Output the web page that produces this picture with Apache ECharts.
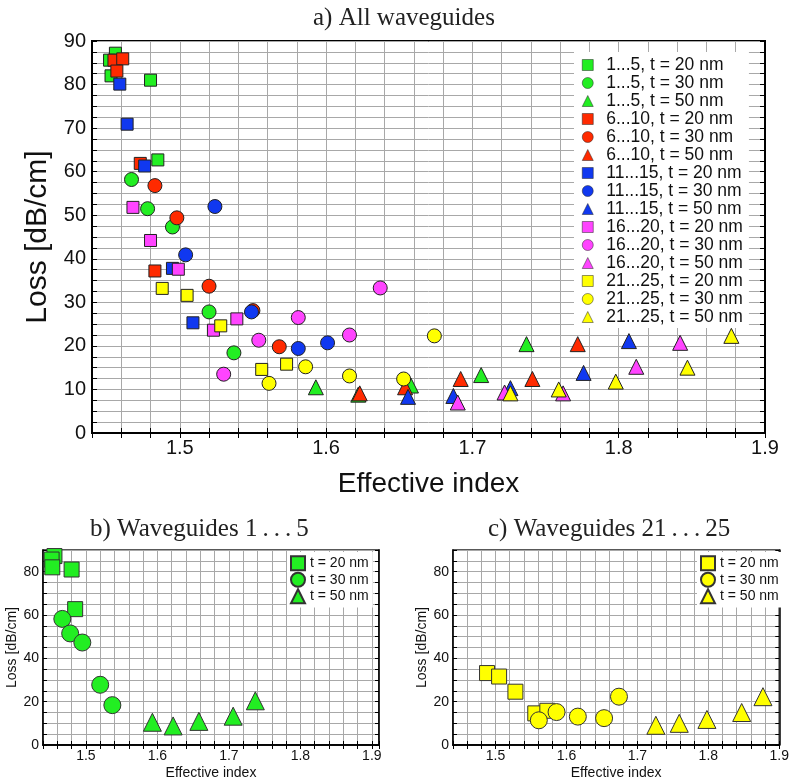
<!DOCTYPE html>
<html>
<head>
<meta charset="utf-8">
<script src="https://cdn.jsdelivr.net/npm/echarts@6/dist/echarts.min.js"></script>
<style>
  html, body { margin: 0; padding: 0; background: #fff; }
  #chart { width: 792px; height: 782px; }
</style>
</head>
<body>
<div id="chart"></div>
<script>
const groupNames = ['1...5', '6...10', '11...15', '16...20', '21...25'];
const thicknessNames = ['t = 20 nm', 't = 30 nm', 't = 50 nm'];
const groupColors = ['#22ee22', '#ff2a00', '#1038f0', '#ff44ff', '#ffff00'];
const thicknessSymbols = ['rect', 'circle', 'triangle'];

// [effective index, loss dB/cm]
const wg1_t20 = [[1.456, 87.2], [1.452, 85.6], [1.453, 82.0], [1.480, 81.0], [1.485, 62.7]];
const wg1_t30 = [[1.467, 58.2], [1.478, 51.5], [1.495, 47.3], [1.520, 27.8], [1.537, 18.4]];
const wg1_t50 = [[1.593, 10.5], [1.622, 8.8], [1.658, 10.9], [1.706, 13.3], [1.737, 20.4]];
const wg6_t20 = [[1.455, 85.6], [1.461, 85.9], [1.457, 83.1], [1.473, 61.9], [1.483, 37.2]];
const wg6_t30 = [[1.483, 56.8], [1.498, 49.4], [1.520, 33.7], [1.550, 28.1], [1.568, 19.8]];
const wg6_t50 = [[1.623, 9.1], [1.654, 10.5], [1.692, 12.4], [1.741, 12.4], [1.772, 20.4]];
const wg11_t20 = [[1.459, 80.1], [1.464, 70.9], [1.476, 61.3], [1.495, 37.8], [1.509, 25.3]];
const wg11_t30 = [[1.524, 52.0], [1.504, 40.9], [1.549, 27.8], [1.581, 19.4], [1.601, 20.7]];
const wg11_t50 = [[1.656, 8.3], [1.687, 8.5], [1.726, 10.3], [1.776, 13.8], [1.807, 21.1]];
const wg16_t20 = [[1.468, 51.8], [1.480, 44.2], [1.499, 37.6], [1.523, 23.6], [1.539, 26.2]];
const wg16_t30 = [[1.530, 13.5], [1.554, 21.3], [1.581, 26.5], [1.616, 22.5], [1.637, 33.3]];
const wg16_t50 = [[1.690, 7.0], [1.722, 9.3], [1.762, 9.1], [1.812, 15.2], [1.842, 20.7]];
const wg21_t20 = [[1.488, 33.2], [1.505, 31.6], [1.528, 24.6], [1.556, 14.6], [1.573, 15.8]];
const wg21_t30 = [[1.561, 11.4], [1.586, 15.2], [1.616, 13.1], [1.653, 12.4], [1.674, 22.3]];
const wg21_t50 = [[1.726, 9.1], [1.759, 10.0], [1.798, 11.8], [1.847, 15.0], [1.877, 22.3]];

const allData = [
  [wg1_t20, wg1_t30, wg1_t50],
  [wg6_t20, wg6_t30, wg6_t50],
  [wg11_t20, wg11_t30, wg11_t50],
  [wg16_t20, wg16_t30, wg16_t50],
  [wg21_t20, wg21_t30, wg21_t50]
];

const sans = 'Liberation Sans';
const serif = 'Liberation Serif';
const gridColor = '#a8a8a8';

const mainSizes = [12, 14, 15];
const smallSizes = [15, 17, 18];

function xLabel(step) {
  return function (v) {
    const t = Math.round(v * 100);
    return t % step === 0 ? (t / 100).toFixed(1) : '';
  };
}
function yLabel(step) {
  return function (v) {
    return Math.abs(v % step) < 1e-6 ? String(v) : '';
  };
}

function makeX(gridIndex, opt) {
  const base = {
    gridIndex, type: 'value', min: 1.44, max: opt.max, interval: 0.02,
    axisLine: { lineStyle: { color: '#000', width: opt.lw } },
    axisTick: { inside: true, length: opt.tick, lineStyle: { color: '#000' } },
    splitLine: { show: true, lineStyle: { color: gridColor, width: 1 } }
  };
  return [
    Object.assign({}, base, {
      position: 'bottom',
      name: 'Effective index', nameLocation: 'middle', nameGap: opt.nameGap,
      nameTextStyle: { fontFamily: sans, fontSize: opt.nameSize, color: '#111' },
      axisLabel: { formatter: xLabel(10), fontFamily: sans, fontSize: opt.labelSize, color: '#111', margin: opt.margin }
    }),
    Object.assign({}, base, {
      position: 'top', splitLine: { show: false }, axisLabel: { show: false }
    })
  ];
}

function makeY(gridIndex, opt) {
  const base = {
    gridIndex, type: 'value', min: 0, max: 90, interval: opt.interval,
    axisLine: { show: true, lineStyle: { color: '#000', width: opt.lw } },
    axisTick: { show: true, inside: true, length: opt.tick, lineStyle: { color: '#000' } },
    splitLine: { show: true, lineStyle: { color: gridColor, width: 1 } }
  };
  return [
    Object.assign({}, base, {
      position: 'left',
      name: 'Loss [dB/cm]', nameLocation: 'middle', nameGap: opt.nameGap,
      nameTextStyle: { fontFamily: sans, fontSize: opt.nameSize, color: '#111' },
      axisLabel: { formatter: yLabel(opt.labelStep), fontFamily: sans, fontSize: opt.labelSize, color: '#111', margin: opt.margin }
    }),
    Object.assign({}, base, {
      position: 'right', splitLine: { show: false }, axisLabel: { show: false }
    })
  ];
}

const xAxes = [].concat(
  makeX(0, { max: 1.9, lw: 2, tick: 5, nameGap: 37, nameSize: 28, labelSize: 20, margin: 5 }),
  makeX(1, { max: 1.91, lw: 1.5, tick: 4, nameGap: 21, nameSize: 14, labelSize: 14, margin: 4 }),
  makeX(2, { max: 1.9, lw: 1.5, tick: 4, nameGap: 21, nameSize: 14, labelSize: 14, margin: 4 })
);
const yAxes = [].concat(
  makeY(0, { interval: 2.5, labelStep: 10, lw: 2, tick: 5, nameGap: 37, nameSize: 30, labelSize: 20, margin: 6 }),
  makeY(1, { interval: 5, labelStep: 20, lw: 1.5, tick: 4, nameGap: 20, nameSize: 14, labelSize: 14, margin: 4 }),
  makeY(2, { interval: 5, labelStep: 20, lw: 1.5, tick: 4, nameGap: 20, nameSize: 14, labelSize: 14, margin: 4 })
);

const series = [];
const mainLegend = [];
groupNames.forEach((g, gi) => {
  thicknessNames.forEach((t, ti) => {
    const name = g + ', ' + t;
    mainLegend.push(name);
    series.push({
      type: 'scatter', name, xAxisIndex: 0, yAxisIndex: 0,
      symbol: thicknessSymbols[ti], symbolSize: mainSizes[ti],
      itemStyle: { color: groupColors[gi], borderColor: '#222', borderWidth: 1, opacity: 1 },
      data: allData[gi][ti]
    });
  });
});

// panels b) and c): single group each
const panels = [
  { prefix: 'b|', group: 0, axis: 2 },
  { prefix: 'c|', group: 4, axis: 4 }
];
const panelLegends = [[], []];
panels.forEach((p, pi) => {
  thicknessNames.forEach((t, ti) => {
    const name = p.prefix + t;
    panelLegends[pi].push(name);
    series.push({
      type: 'scatter', name, xAxisIndex: p.axis, yAxisIndex: p.axis,
      symbol: thicknessSymbols[ti], symbolSize: smallSizes[ti],
      itemStyle: { color: groupColors[p.group], borderColor: '#333', borderWidth: 1, opacity: 1 },
      data: allData[p.group][ti]
    });
  });
});

const chart = echarts.init(document.getElementById('chart'), null, { renderer: 'canvas' });
chart.setOption({
  backgroundColor: '#fff',
  animation: false,
  title: [
    { text: 'a) All waveguides', left: 308, top: 1, textStyle: { fontFamily: serif, fontSize: 25, fontWeight: 'normal', color: '#222' } },
    { text: 'b) Waveguides 1\u2009.\u2009.\u2009.\u20095', left: 85, top: 512, textStyle: { fontFamily: serif, fontSize: 25, fontWeight: 'normal', color: '#222' } },
    { text: 'c) Waveguides 21\u2009.\u2009.\u2009.\u200925', left: 483, top: 512, textStyle: { fontFamily: serif, fontSize: 25, fontWeight: 'normal', color: '#222' } }
  ],
  grid: [
    { left: 92, right: 27, top: 41, bottom: 349, show: true, borderColor: '#000', borderWidth: 2 },
    { left: 43, right: 413, top: 550, bottom: 37, show: true, borderColor: '#222', borderWidth: 1.5 },
    { left: 453, right: 9, top: 550, bottom: 37, show: true, borderColor: '#222', borderWidth: 1.5 }
  ],
  xAxis: xAxes,
  yAxis: yAxes,
  legend: [
    {
      data: mainLegend, orient: 'vertical', left: 574, top: 52,
      padding: [4, 6, 2, 8], backgroundColor: '#fff',
      itemWidth: 11, itemHeight: 11, itemGap: 0, selectedMode: false,
      itemStyle: { borderWidth: 0.5 },
      textStyle: { fontFamily: sans, fontSize: 17.5, color: '#111', lineHeight: 17.55, padding: [0, 0, 0, 8] }
    },
    {
      data: panelLegends[0], orient: 'vertical', left: 287, top: 552,
      padding: [3, 4, 3, 3], backgroundColor: '#fff',
      itemWidth: 14, itemHeight: 14, itemGap: 0, selectedMode: false,
      formatter: n => n.split('|')[1],
      textStyle: { fontFamily: sans, fontSize: 14, color: '#111', lineHeight: 16.5 }
    },
    {
      data: panelLegends[1], orient: 'vertical', left: 697, top: 552,
      padding: [3, 4, 3, 3], backgroundColor: '#fff',
      itemWidth: 14, itemHeight: 14, itemGap: 0, selectedMode: false,
      formatter: n => n.split('|')[1],
      textStyle: { fontFamily: sans, fontSize: 14, color: '#111', lineHeight: 16.5 }
    }
  ],
  series
});
</script>
</body>
</html>
